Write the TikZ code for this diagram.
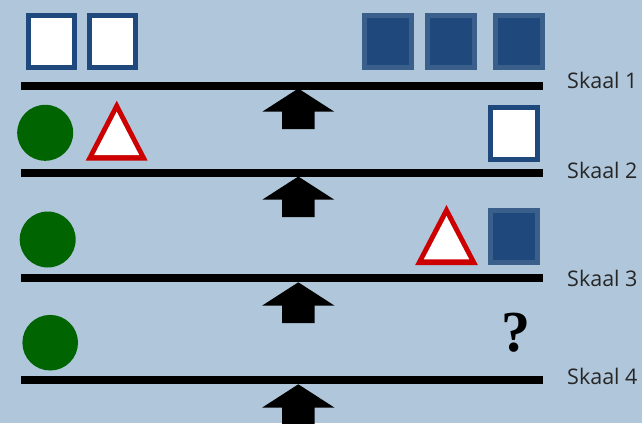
\documentclass[tikz,border=0pt]{standalone}
\usepackage{fontspec}
\setmainfont{Open Sans}
\newfontfamily\qfont{Liberation Serif}
\definecolor{bgblue}{HTML}{B0C7DB}
\definecolor{boxblue}{HTML}{1F497D}
\definecolor{boxedge}{HTML}{3A5F8B}
\definecolor{ballgreen}{HTML}{006400}
\definecolor{warnred}{HTML}{CC0000}
\tikzset{
  beam/.style={line width=8pt, black},
  whitebox/.style={fill=white, draw=boxblue, line width=5.3pt},
  darkbox/.style={fill=boxblue, draw=boxedge, line width=5.4pt},
  ball/.style={fill=ballgreen},
  fulcrum/.style={fill=black},
  scalelabel/.style={anchor=base west, inner sep=0pt, font=\fontsize{21.5}{26}\selectfont, text=black!85},
}
% upward arrow under a beam, apex at (#1,#2)
\newcommand{\pivotarrow}[2]{%
  \fill[fulcrum] (#1,#2) -- ++(36,23.2) -- ++(-19.7,0) -- ++(0,17.5)
    -- ++(-32.6,0) -- ++(0,-17.5) -- ++(-19.7,0) -- cycle;}
% warning triangle: outer apex, outer base, inner apex, inner base
\newcommand{\warntri}[8]{%
  \fill[warnred] (#1,#2) -- (#1-#4,#3) -- (#1+#4,#3) -- cycle;
  \fill[white] (#1,#5) -- (#1-#7,#6) -- (#1+#7,#6) -- cycle;}
\begin{document}
\begin{tikzpicture}[x=1pt,y=-1pt]
  \useasboundingbox[fill=bgblue] (0,0) rectangle (642,423);

  % beams
  \coordinate (b1l) at (21,86);    \coordinate (b1r) at (543,86);
  \coordinate (b2l) at (21,172.5); \coordinate (b2r) at (543,172.5);
  \coordinate (b3l) at (21,278.3); \coordinate (b3r) at (543,278.3);
  \coordinate (b4l) at (21,380.3); \coordinate (b4r) at (543,380.3);
  \draw[beam] (b1l) -- (b1r);
  \draw[beam] (b2l) -- (b2r);
  \draw[beam] (b3l) -- (b3r);
  \draw[beam] (b4l) -- (b4r);

  % pivots
  \pivotarrow{298.3}{88.5}
  \pivotarrow{298.3}{176.5}
  \pivotarrow{298.3}{282.3}
  \pivotarrow{298.3}{384.3}

  % scale 1
  \draw[whitebox] (28.65,15.65) rectangle (74.35,67.35);
  \draw[whitebox] (89.65,15.65) rectangle (135.35,67.35);
  \draw[darkbox] (364.7,15.7) rectangle (411.3,67.3);
  \draw[darkbox] (427.7,15.7) rectangle (474.3,67.3);
  \draw[darkbox] (495.7,15.7) rectangle (542.3,67.3);

  % scale 2
  \fill[ball] (45.2,132.8) circle (28);
  \warntri{116.7}{100.7}{160.7}{31}{111.7}{155}{22.5}{}
  \draw[whitebox] (490.65,107.65) rectangle (537.65,159.35);

  % scale 3
  \fill[ball] (47.7,239.5) circle (28);
  \warntri{446.5}{205}{265}{31.3}{216}{259.3}{22.7}{}
  \draw[darkbox] (490.7,210.7) rectangle (537.3,262.3);

  % scale 4
  \fill[ball] (50.2,342.7) circle (27.8);
  \node[anchor=base, inner sep=0pt, font=\qfont\bfseries\fontsize{58}{60}\selectfont] (q) at (516,351.7) {?};

  % labels
  \node[scalelabel] (s1) at (567,88.5) {Skaal 1};
  \node[scalelabel] (s2) at (567,178.5) {Skaal 2};
  \node[scalelabel] (s3) at (567,286) {Skaal 3};
  \node[scalelabel] (s4) at (567,384) {Skaal 4};
\end{tikzpicture}
\end{document}
